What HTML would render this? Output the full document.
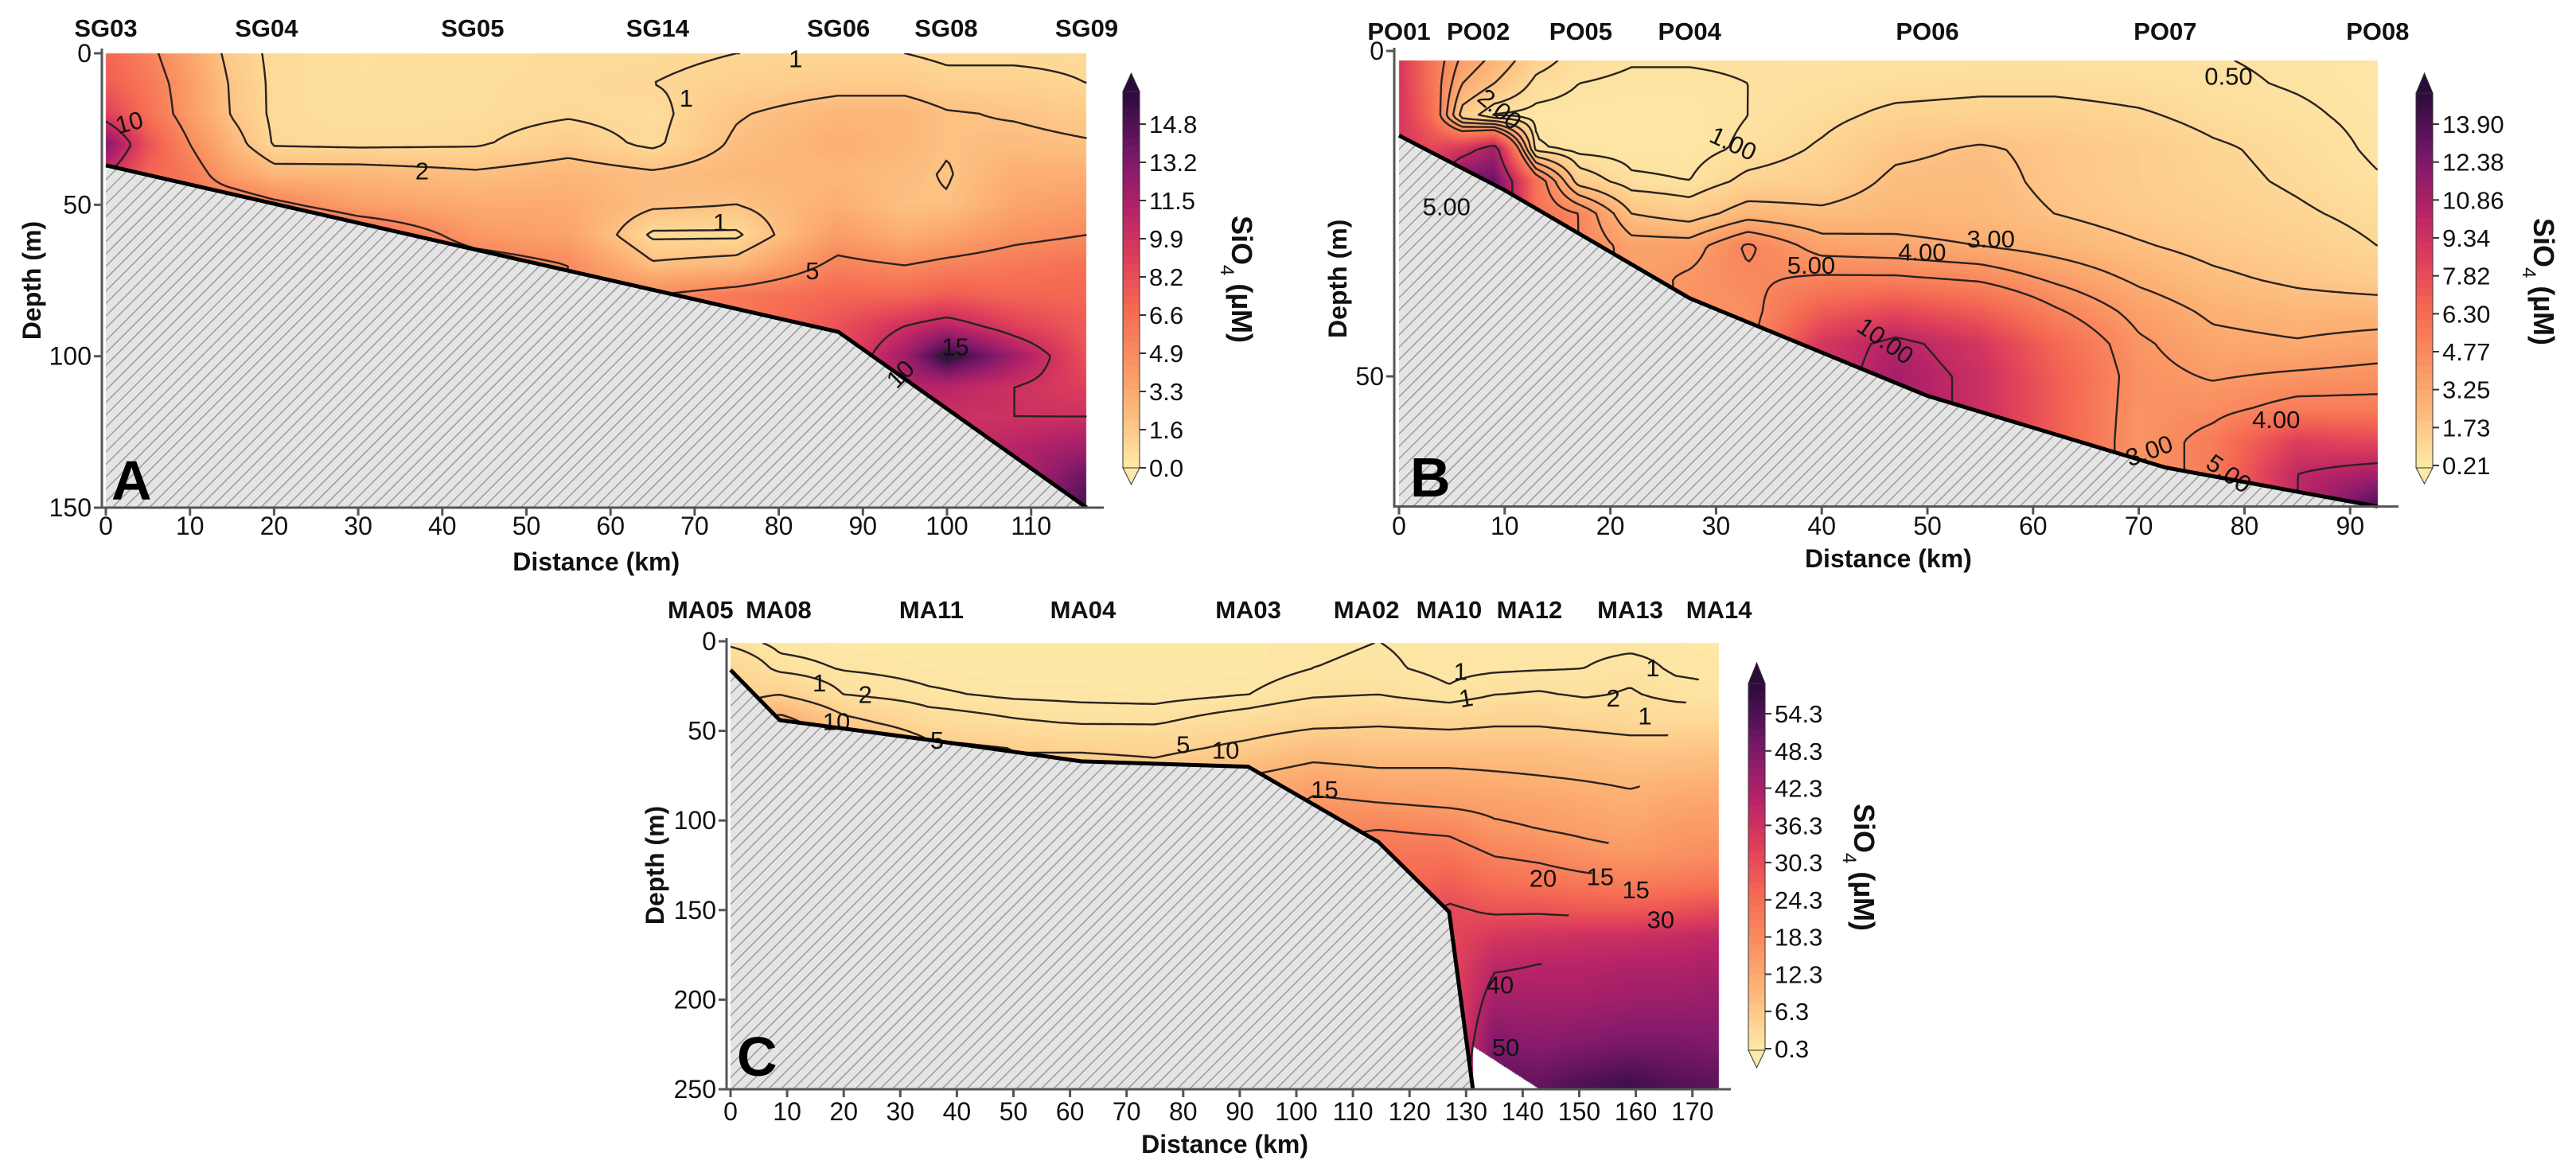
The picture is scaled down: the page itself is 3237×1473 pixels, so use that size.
<!DOCTYPE html>
<html><head><meta charset="utf-8">
<style>
html,body{margin:0;padding:0;background:#fff;}
#wrap{position:relative;width:3237px;height:1473px;overflow:hidden;background:#fff;}
#field{position:absolute;left:0;top:0;}
#chart{position:absolute;left:0;top:0;}
text{font-family:"Liberation Sans",Arial,sans-serif;}
</style></head>
<body>
<div id="wrap">
<canvas id="field" width="3237" height="1473"></canvas>
<svg id="chart" width="3237" height="1473" xmlns="http://www.w3.org/2000/svg">
<defs>
<pattern id="hatch" patternUnits="userSpaceOnUse" width="11" height="11" patternTransform="rotate(45)">
<rect width="11" height="11" fill="#e4e4e4"/>
<line x1="0" y1="0" x2="0" y2="11" stroke="#9c9c9c" stroke-width="3"/>
</pattern>
</defs>
</svg>
</div>
<script>
// ---------- Panel A data ----------
const A_km=[0,5,10,15,20,30,44,55,65,75,87,95,100,108,116.6];
const A_depth=[0,10,20,30,40,50,60,70,80,90,100,110,120,130,140,150];
const A_values=[
[7,7.5,9,13,10],
[5.5,6,6.5,8,7],
[3.5,4,4,5,6,6],
[1.5,1.8,1.9,2.6,3.8,6.5],
[0.8,0.8,0.8,0.9,2.6,5.5,9],
[0.6,0.6,0.6,0.8,2.6,3.8,7],
[0.6,0.7,0.7,0.9,2.2,3.2,4.2,6],
[0.8,0.8,0.9,1.5,2.6,3.2,3.6,5],
[0.8,1.0,0.7,0.8,2.2,2.2,0.8,2.2,5],
[1,1.3,1.9,2.2,2.6,2,0.8,2.6,6],
[1,1.6,2.6,3,2.6,3,4,5.5,7,8],
[1,1.6,2.6,2.6,2.3,2.1,3,5,7,10,12,11],
[0.8,1.3,2.1,2.1,1.9,2.1,3.5,5.5,7.5,11,16,11,10],
[0.8,1.3,1.9,2.3,3,3.5,4.5,6,7,9,12,10,10,11],
[0.8,1,1.6,2.1,3,4,5,6.5,7,7.5,8,9,10,12,14,15]];
const A_bathyKm=[0,43.6,87.1,116.6];
const A_bathyDepth=[37,64.6,92,150];
const A_levels=[1,2,5,10,15];
const A_xticks=[0,10,20,30,40,50,60,70,80,90,100,110];
const A_yticks=[0,50,100,150];
const A_cbTicks=["14.8","13.2","11.5","9.9","8.2","6.6","4.9","3.3","1.6","0.0"];
const A_stations=["SG03","SG04","SG05","SG14","SG06","SG08","SG09"];
const A_stationKm=[0,19.1,43.6,65.6,87.1,99.9,116.6];
const A_labelText=["1","1","2","1","5","15","10","10"];
const A_labelKm=[82,69,37.6,73,84,101,2.8,94.5];
const A_labelDepth=[2,15,39,56,72,97,23,106];
const A_labelRot=[0,0,0,0,0,0,-15,-45];

// ---------- Panel B data ----------
const B_km=[0,3,6,9,13,17,22,27.5,33,40,47,55,62,70,77,85,92.6];
const B_depth=[0,5,10,15,20,25,30,35,40,45,50,55,60,65,70];
const B_values=[
[9,9,9,9],
[6,6,6.5,8],
[4,3,1.5,9,13],
[3,2,0.4,11,13],
[1.5,0.8,0.3,0.6,6,6],
[0.8,0.5,0.3,0.3,1.5,5],
[0.6,0.4,0.3,0.3,0.6,2,3.5],
[0.6,0.4,0.3,0.3,0.5,1.5,3.5,4.2],
[0.6,0.5,0.5,0.6,1.2,2.5,5.2,4.8,4.5],
[0.5,0.6,0.8,1.1,1.4,2.2,3.5,5.2,7,9],
[0.5,0.7,1.2,1.8,2.2,2.5,3.3,5.2,8,10.5,11],
[0.5,0.8,1.3,2.1,2.3,2.4,3.0,4.8,7,9,9.5],
[0.5,0.8,1.3,1.8,1.8,2,2.6,3.8,5.2,6.5,7],
[0.5,0.7,1.1,1.5,1.5,1.6,2.1,2.8,3.6,4.2,4.4,4.3,4.2],
[0.5,0.6,0.8,1.1,1.2,1.4,1.7,2.2,2.8,3.3,3.9,4.6,5.5],
[0.4,0.45,0.6,0.8,0.9,1.1,1.4,1.8,2.5,3.1,4.2,5.5,8.5,10],
[0.3,0.3,0.35,0.4,0.55,0.8,1.0,1.5,2.5,3.4,4.4,5.5,8,11,14]];
const B_bathyKm=[0,10,27.5,50,72.5,92.6];
const B_bathyDepth=[13,21.4,38,53,64,70];
const B_levels=[0.5,1,2,3,4,5,10];
const B_xticks=[0,10,20,30,40,50,60,70,80,90];
const B_yticks=[0,50];
const B_cbTicks=["13.90","12.38","10.86","9.34","7.82","6.30","4.77","3.25","1.73","0.21"];
const B_stations=["PO01","PO02","PO05","PO04","PO06","PO07","PO08"];
const B_stationKm=[0,7.5,17.2,27.5,50,72.5,92.6];
const B_labelText=["1.00","5.00","10.00","0.50","3.00","4.00","4.00","3.00","5.00","2.00","5.00"];
const B_labelKm=[31.6,39,46,78.5,56,49.5,83,71,78.5,9.5,4.5];
const B_labelDepth=[14.3,33,44.6,4,29,31,56.7,61.5,65,9,24];
const B_labelRot=[25,0,35,0,0,0,0,-20,35,40,0];

// ---------- Panel C data ----------
const C_km=[0,8.7,20,35,50,62,75,91.5,103,114.5,127,135,143,151,159,167,174.7];
const C_depth=[0,15,30,45,60,75,90,105,120,135,150,165,180,200,225,250];
const C_values=[
[1.5,4],
[0.6,1.5,5,12],
[0.5,0.9,2,6,12],
[0.5,0.6,1.2,3,6],
[0.4,0.4,0.8,2.2,5],
[0.6,0.5,0.7,1.8,4.5,8],
[0.5,0.4,0.6,1.8,4,7],
[0.5,0.5,1,3,6,10],
[0.8,1.0,1.8,4,8,12,16,19],
[1,1.2,2,4.5,7.5,11,15,20,23],
[0.7,0.7,1.2,4,7.5,11,14,19,23,27,31],
[0.8,0.8,2,4.5,7.5,10.5,13.5,16,20,24,29,35,39,43,48,53],
[0.8,0.9,2.2,4.5,7.5,10,13,15,19,23,29,36,40,43,47,52],
[0.6,1,1.8,4,7,9.5,12,14,17,22,28,37,40,43,48,55],
[0.6,1.5,2.2,3.5,6.5,9,11,13,16,21,28,37,41,44,49,57],
[0.6,0.8,1.5,3.5,6.5,9.5,12.5,15,17,22,29,38,41,44,49,54],
[0.5,0.7,1.2,3.5,7,10,13,15.5,18,23,31,39,42,45,48,53]];
const C_bathyKm=[0,8.7,35,62,91.5,114.5,127,131.2];
const C_bathyDepth=[16,44,55,67,70,112,151,250];
const C_levels=[1,2,5,10,15,20,30,40,50];
const C_xticks=[0,10,20,30,40,50,60,70,80,90,100,110,120,130,140,150,160,170];
const C_yticks=[0,50,100,150,200,250];
const C_cbTicks=["54.3","48.3","42.3","36.3","30.3","24.3","18.3","12.3","6.3","0.3"];
const C_stations=["MA05","MA08","MA11","MA04","MA03","MA02","MA10","MA12","MA13","MA14"];
const C_stationKm=[-5.3,8.5,35.5,62.3,91.5,112.4,127,141.2,159,174.7];
const C_labelText=["1","2","10","5","5","10","15","1","1","20","15","15","30","40","50","1","2","1"];
const C_labelKm=[15.7,23.8,18.7,36.5,80,87.5,105,129,130,143.6,153.7,160,164.4,136,137,163,156,161.6];
const C_labelDepth=[23.6,30,45,55.6,58,61,83,17,32,132.6,131.7,139,155.7,192,227,15,32,42];
const C_labelRot=[0,0,0,0,0,0,0,0,-10,0,0,0,0,0,0,0,0,0];

// ---------- colormap ----------
const CMAP=[[0,"#fdeaa9"],[0.08,"#fdd18f"],[0.18,"#fcb074"],[0.3,"#f98d5f"],[0.42,"#f56a53"],[0.55,"#e0405a"],[0.68,"#b82467"],[0.8,"#861a6b"],[0.9,"#561258"],[1,"#2b0b3a"]];
function hex(h){return [parseInt(h.slice(1,3),16),parseInt(h.slice(3,5),16),parseInt(h.slice(5,7),16)];}
const LUT=[];
for(let k=0;k<256;k++){const t=k/255;let i=0;while(i<CMAP.length-2&&CMAP[i+1][0]<t)i++;
 const a=CMAP[i],b=CMAP[i+1];const u=Math.min(1,Math.max(0,(t-a[0])/(b[0]-a[0])));const ca=hex(a[1]),cb=hex(b[1]);
 LUT.push([0,1,2].map(c=>Math.round(ca[c]+(cb[c]-ca[c])*u)));}
function lutColor(t){const c=LUT[Math.round(Math.min(1,Math.max(0,t))*255)];return "rgb("+c[0]+","+c[1]+","+c[2]+")";}

function makeInterp(xs,ds,cols){
 const nd=ds.length;
 const M=cols.map(c=>{const a=c.slice();while(a.length<nd)a.push(a[a.length-1]);return a;});
 function seg(arr,v){const n=arr.length;if(v<=arr[0])return [0,0];if(v>=arr[n-1])return [n-2,1];let i=0;while(arr[i+1]<v)i++;return [i,(v-arr[i])/(arr[i+1]-arr[i])];}
 return function(x,d){const s=seg(xs,x),r=seg(ds,d);const i=s[0],tx=s[1],j=r[0],ty=r[1];
  const a=M[i][j],b=M[i+1][j],c=M[i][j+1],e=M[i+1][j+1];
  return (a*(1-tx)+b*tx)*(1-ty)+(c*(1-tx)+e*tx)*ty;};
}
function lin(xs,ys,x){if(x<=xs[0])return ys[0];for(let i=0;i<xs.length-1;i++){if(x<=xs[i+1])return ys[i]+(ys[i+1]-ys[i])*(x-xs[i])/(xs[i+1]-xs[i]);}return ys[ys.length-1];}

const svg=document.getElementById('chart');
const ctx=document.getElementById('field').getContext('2d');
const NS="http://www.w3.org/2000/svg";
function el(tag,attrs,parent){const e=document.createElementNS(NS,tag);for(const k in attrs)e.setAttribute(k,attrs[k]);(parent||svg).appendChild(e);return e;}

const panels=[
{id:"a",letter:"A",km:A_km,depth:A_depth,values:A_values,bKm:A_bathyKm,bD:A_bathyDepth,levels:A_levels,xt:A_xticks,yt:A_yticks,cb:A_cbTicks,st:A_stations,stKm:A_stationKm,
 lt:A_labelText,lk:A_labelKm,ld:A_labelDepth,lr:A_labelRot,
 x0:133,kx:10.57,y0:67,ky:3.807,xmax:116.6,ymax:150,topD:0,vmin:0,vmax:16.2,
 spineX:128,spineTop:61,spineRight:1387,stY:35,xtY:661,xlabY:706,ylabX:40,letterX:140,letterY:628,
 cbX:1411,cbTop:115,cbBot:588,cbTipT:92,cbTipB:609,cbT0:156,cbT1:588,cbLabX:1560,cbLabY:351},
{id:"b",letter:"B",km:B_km,depth:B_depth,values:B_values,bKm:B_bathyKm,bD:B_bathyDepth,levels:B_levels,xt:B_xticks,yt:B_yticks,cb:B_cbTicks,st:B_stations,stKm:B_stationKm,
 lt:B_labelText,lk:B_labelKm,ld:B_labelDepth,lr:B_labelRot,
 x0:1758,kx:13.28,y0:64,ky:8.18,xmax:92.6,ymax:70,topD:1.5,vmin:0.11,vmax:15.14,
 spineX:1752,spineTop:60,spineRight:3014,stY:39,xtY:661,xlabY:702,ylabX:1681,letterX:1772,letterY:624,
 cbX:3036,cbTop:117,cbBot:588,cbTipT:92,cbTipB:608,cbT0:156,cbT1:585,cbLabX:3196,cbLabY:354},
{id:"c",letter:"C",km:C_km,depth:C_depth,values:C_values,bKm:C_bathyKm,bD:C_bathyDepth,levels:C_levels,xt:C_xticks,yt:C_yticks,cb:C_cbTicks,st:C_stations,stKm:C_stationKm,
 lt:C_labelText,lk:C_labelKm,ld:C_labelDepth,lr:C_labelRot,
 x0:918,kx:7.11,y0:806,ky:2.252,xmax:174.7,ymax:250,topD:1,vmin:0.04,vmax:59.2,
 spineX:913,spineTop:802,spineRight:2175,stY:766,xtY:1397,xlabY:1438,ylabX:823,letterX:926,letterY:1352,
 cbX:2197,cbTop:859,cbBot:1320,cbTipT:833,cbTipB:1342,cbT0:897,cbT1:1318,cbLabX:2342,cbLabY:1090,
 notch:{k0:131.2,d0:226,k1:143}}
];

panels.forEach(P=>{
 const f=makeInterp(P.km,P.depth,P.values);
 const X=k=>P.x0+k*P.kx, Y=d=>P.y0+d*P.ky;
 const bottom=k=>lin(P.bKm,P.bD,k);
 const masked=(k,d)=>{if(d>bottom(k)||d<P.topD)return true;if(P.notch&&k>P.notch.k0&&d>P.notch.d0+(k-P.notch.k0)*(250-P.notch.d0)/(P.notch.k1-P.notch.k0))return true;return false;};
 const px0=Math.floor(X(0)),px1=Math.ceil(X(P.xmax)),py0=Math.floor(Y(0)),py1=Math.ceil(Y(P.ymax));
 const W=px1-px0,H=py1-py0;const img=ctx.createImageData(W,H);
 for(let py=0;py<H;py++){const d=(py0+py+0.5-P.y0)/P.ky;
  for(let px=0;px<W;px++){const k=(px0+px+0.5-P.x0)/P.kx;if(k<0||k>P.xmax||masked(k,d))continue;
   const v=f(k,d);const t=(v-P.vmin)/(P.vmax-P.vmin);const c=LUT[Math.round(Math.min(1,Math.max(0,t))*255)];
   const o=(py*W+px)*4;img.data[o]=c[0];img.data[o+1]=c[1];img.data[o+2]=c[2];img.data[o+3]=255;}}
 ctx.putImageData(img,px0,py0);

 const g=el('g',{});
 
 
 let landPts=P.bKm.map((k,i)=>X(k)+","+Y(P.bD[i]));
 landPts.push(X(P.xmax)+","+Y(P.ymax));landPts.push(X(0)+","+Y(P.ymax));
 const land=el('polygon',{points:landPts.join(" "),fill:"url(#hatch)"},g);
 
 
 const cp=el('clipPath',{id:"clip-"+P.id},g);
 let wPts=[X(0)+","+Y(P.topD),X(P.xmax)+","+Y(P.topD)];
 for(let i=P.bKm.length-1;i>=0;i--)wPts.push(X(P.bKm[i])+","+Y(P.bD[i]));
 el('polygon',{points:wPts.join(" ")},cp);
 const step=4;const nx=Math.ceil((X(P.xmax)-X(0))/step),ny=Math.ceil((Y(P.ymax)-Y(P.topD))/step);
 const grid=[];for(let i=0;i<=nx;i++){const col=[];const k=Math.min(P.xmax,i*step/P.kx);for(let j=0;j<=ny;j++){const d=Math.min(P.ymax,P.topD+j*step/P.ky);col.push(f(k,d));}grid.push(col);}
 const cg=el('g',{'clip-path':"url(#clip-"+P.id+")"},g);
 
 
 P.levels.forEach(L=>{
  let dstr="";
  for(let i=0;i<nx;i++)for(let j=0;j<ny;j++){
   const c=[[i,j],[i+1,j],[i+1,j+1],[i,j+1]];const v=c.map(p=>grid[p[0]][p[1]]);const pts=[];
   for(let e=0;e<4;e++){const a=v[e],b=v[(e+1)%4];if((a<L)!==(b<L)){const t=(L-a)/(b-a);const p=c[e],q=c[(e+1)%4];
    pts.push([X(0)+(p[0]+(q[0]-p[0])*t)*step,Y(P.topD)+(p[1]+(q[1]-p[1])*t)*step]);}}
   for(let m=0;m+1<pts.length;m+=2)dstr+="M"+pts[m][0].toFixed(1)+" "+pts[m][1].toFixed(1)+"L"+pts[m+1][0].toFixed(1)+" "+pts[m+1][1].toFixed(1);
  }
  const path=el('path',{d:dstr,fill:"none",stroke:"#2a2220","stroke-width":"2.4","stroke-linecap":"round"},cg);
  
  
 });
 P.lt.forEach((t,i)=>{const x=X(P.lk[i]),y=Y(P.ld[i]);
  const tx=el('text',{x:x,y:y+10,'font-size':"31","text-anchor":"middle",fill:"#111",transform:"rotate("+P.lr[i]+" "+x+" "+y+")"},g);
  tx.textContent=t;
  
  });
 const bl=el('polyline',{points:P.bKm.map((k,i)=>X(k)+","+Y(P.bD[i])).join(" "),fill:"none",stroke:"#000","stroke-width":"5","stroke-linejoin":"round"},g);
 
 
 const bottomY=Y(P.ymax);
 const sp=el('path',{d:"M"+P.spineX+" "+P.spineTop+"V"+bottomY+"H"+P.spineRight,fill:"none",stroke:"#555","stroke-width":"3"},g);
 
 
 P.xt.forEach(v=>{const x=X(v);
  const tk=el('line',{x1:x,x2:x,y1:bottomY,y2:bottomY+10,stroke:"#555","stroke-width":"3"},g);
  
  
  const tl=el('text',{x:x,y:P.xtY+11,'font-size':"32","text-anchor":"middle",fill:"#111"},g);
  tl.textContent=v;
  
  });
 P.yt.forEach(v=>{const y=Y(v);
  const tk=el('line',{x1:P.spineX-10,x2:P.spineX,y1:y,y2:y,stroke:"#555","stroke-width":"3"},g);
  
  
  const tl=el('text',{x:P.spineX-13,y:y+11,'font-size':"32","text-anchor":"end",fill:"#111"},g);
  tl.textContent=v;
  
  });
 const xl=el('text',{x:(X(0)+X(P.xmax))/2,y:P.xlabY+11,'font-size':"32","font-weight":"bold","text-anchor":"middle",fill:"#111"},g);
 xl.textContent="Distance (km)";
 
 
 const ymid=(Y(0)+bottomY)/2;
 const yl=el('text',{x:P.ylabX+11,y:ymid,'font-size':"32","font-weight":"bold","text-anchor":"middle",fill:"#111",transform:"rotate(-90 "+(P.ylabX+11)+" "+ymid+")"},g);
 yl.textContent="Depth (m)";
 
 
 P.st.forEach((s,i)=>{const t=el('text',{x:X(P.stKm[i]),y:P.stY+11,'font-size':"31","font-weight":"bold","text-anchor":"middle",fill:"#111"},g);
  t.textContent=s;
  
  });
 const lt=el('text',{x:P.letterX,y:P.letterY,'font-size':"70","font-weight":"bold",fill:"#000"},g);
 lt.textContent=P.letter;
 
 
 const cb=el('g',{},g);
 
 
 const cbW=21,n=48;
 for(let s=0;s<n;s++){const y0=P.cbTop+(P.cbBot-P.cbTop)*s/n;const t=1-(s+0.5)/n;
  const r=el('rect',{x:P.cbX,y:y0,width:cbW,height:(P.cbBot-P.cbTop)/n+0.8,fill:lutColor(t)},cb);
  
  }
 const tipT=el('polygon',{points:P.cbX+","+P.cbTop+" "+(P.cbX+cbW)+","+P.cbTop+" "+(P.cbX+cbW/2)+","+P.cbTipT,fill:lutColor(1),stroke:"#333","stroke-width":"1"},cb);
 
 
 const tipB=el('polygon',{points:P.cbX+","+P.cbBot+" "+(P.cbX+cbW)+","+P.cbBot+" "+(P.cbX+cbW/2)+","+P.cbTipB,fill:lutColor(0),stroke:"#333","stroke-width":"1"},cb);
 
 
 const fr=el('rect',{x:P.cbX,y:P.cbTop,width:cbW,height:P.cbBot-P.cbTop,fill:"none",stroke:"#333","stroke-width":"1"},cb);
 
 
 P.cb.forEach((s,i)=>{const y=P.cbT0+(P.cbT1-P.cbT0)*i/(P.cb.length-1);
  const tk=el('line',{x1:P.cbX+cbW,x2:P.cbX+cbW+8,y1:y,y2:y,stroke:"#333","stroke-width":"2"},cb);
  
  
  const t=el('text',{x:P.cbX+cbW+12,y:y+11,'font-size':"31",fill:"#111"},cb);
  t.textContent=s;
  
  });
 const cl=el('text',{x:P.cbLabX-12,y:P.cbLabY,'font-size':"36","font-weight":"bold","text-anchor":"middle",fill:"#111",transform:"rotate(90 "+(P.cbLabX-12)+" "+P.cbLabY+")"},cb);
 cl.innerHTML='SiO<tspan baseline-shift="sub" font-size="24" font-weight="normal">4</tspan> (µM)';
 
 
});
</script>
</body></html>
